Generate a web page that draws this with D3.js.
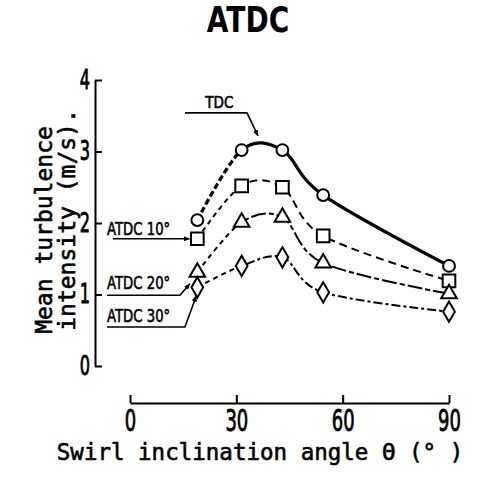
<!DOCTYPE html>
<html>
<head>
<meta charset="utf-8">
<script src="https://cdn.jsdelivr.net/npm/d3@7"></script>
<style>
  body { margin: 0; background: #fff; }
  .cond { font-family: "DejaVu Sans", sans-serif; }
  .mono { font-family: "DejaVu Sans Mono", "Liberation Mono", monospace; }
</style>
</head>
<body>
<script>
// swirl inclination angle (deg) for each measurement
var angles = [19, 31.5, 43, 54.5, 90];

var seriesNames = ["TDC", "ATDC 10°", "ATDC 20°", "ATDC 30°"];
var tdc    = [2.04, 3.02, 3.02, 2.39, 1.40];
var atdc10 = [1.78, 2.52, 2.50, 1.82, 1.19];
var atdc20 = [1.31, 2.01, 2.08, 1.44, 1.01];
var atdc30 = [1.10, 1.40, 1.52, 1.03, 0.76];

var xTicks = [0, 30, 60, 90];
var yTicks = [0, 1, 2, 3, 4];

var width = 486, height = 484;

var x = d3.scaleLinear().domain([0, 90]).range([130, 449]);
var y = d3.scaleLinear().domain([0, 4]).range([366, 80]);

var svg = d3.select("body").append("svg")
    .attr("width", width).attr("height", height);

// text squeezed sideways, the original uses a narrow typeface
function condText(px, py, sx, str, size, anchor, weight) {
  return svg.append("text").attr("class", "cond")
      .attr("transform", "translate(" + px + "," + py + ") scale(" + sx + ",1)")
      .attr("text-anchor", anchor || "start")
      .attr("font-size", size)
      .attr("font-weight", weight || "normal")
      .text(str);
}

var defs = svg.append("defs");
defs.append("marker")
    .attr("id", "arrow")
    .attr("viewBox", "0 0 10 10")
    .attr("refX", 9).attr("refY", 5)
    .attr("markerWidth", 4).attr("markerHeight", 4)
    .attr("markerUnits", "strokeWidth")
    .attr("orient", "auto")
  .append("path").attr("d", "M0,1L10,5L0,9Z").attr("fill", "#000");

// first segment is always drawn dashed, the rest in the series style
var split = x(angles[1]);
defs.append("clipPath").attr("id", "clipA")
  .append("rect").attr("x", 0).attr("y", 0).attr("width", split).attr("height", height);
defs.append("clipPath").attr("id", "clipB")
  .append("rect").attr("x", split).attr("y", 0).attr("width", width - split).attr("height", height);

// title
condText(248, 32, 0.8, "ATDC", 35, "middle", "bold");

// axes
var yAxis = d3.axisLeft(y).tickValues(yTicks).tickFormat(d3.format("d"))
    .tickSizeInner(-7).tickSizeOuter(0).tickPadding(5);
var xAxis = d3.axisBottom(x).tickValues(xTicks).tickFormat(d3.format("d"))
    .tickSizeInner(-8).tickSizeOuter(0).tickPadding(7);

var gy = svg.append("g").attr("transform", "translate(95,0)").call(yAxis);
var gx = svg.append("g").attr("transform", "translate(0,403)").call(xAxis);

[gy, gx].forEach(function(g) {
  g.select(".domain").attr("stroke-width", 2);
  g.selectAll(".tick line").attr("stroke-width", 2);
  g.selectAll("text").attr("class", "cond").attr("fill", "#000")
      .attr("stroke", "#000").attr("stroke-width", 0.9);
});
gy.selectAll("text").attr("font-size", 26)
    .attr("x", -5 / 0.62).attr("transform", "scale(0.62,1)");
gx.selectAll("text").attr("font-size", 30)
    .attr("transform", "scale(0.6,1)");

// axis titles
svg.append("text").attr("class", "mono")
    .attr("x", 260).attr("y", 460)
    .attr("text-anchor", "middle").attr("font-size", 22.5)
    .attr("stroke", "#000").attr("stroke-width", 0.6)
    .text("Swirl inclination angle Θ (° )");

svg.append("text").attr("class", "mono")
    .attr("transform", "translate(52,230) rotate(-90)")
    .attr("text-anchor", "middle").attr("font-size", 23)
    .attr("stroke", "#000").attr("stroke-width", 0.6)
    .text("Mean turbulence");
svg.append("text").attr("class", "mono")
    .attr("transform", "translate(75,220) rotate(-90)")
    .attr("text-anchor", "middle").attr("font-size", 23)
    .attr("stroke", "#000").attr("stroke-width", 0.6)
    .text("intensity (m/s).");

// curves
var series = [
  {name: seriesNames[0], values: tdc,    width: 3.2, dash: null,       marker: "circle"},
  {name: seriesNames[1], values: atdc10, width: 2,   dash: "8,5",      marker: "square"},
  {name: seriesNames[2], values: atdc20, width: 2,   dash: "15,3,5,3", marker: "triangle"},
  {name: seriesNames[3], values: atdc30, width: 2,   dash: "9,3,3,3",  marker: "diamond"}
];

var line = d3.line()
    .x(function(d, i) { return x(angles[i]); })
    .y(function(d) { return y(d); })
    .curve(d3.curveCardinal.tension(0));

series.forEach(function(s) {
  svg.append("path").attr("d", line(s.values))
      .attr("fill", "none").attr("stroke", "#000")
      .attr("stroke-width", s.width)
      .attr("stroke-dasharray", s.marker === "circle" ? "6,3" : "5,4")
      .attr("clip-path", "url(#clipA)");
  svg.append("path").attr("d", line(s.values))
      .attr("fill", "none").attr("stroke", "#000")
      .attr("stroke-width", s.width)
      .attr("stroke-dasharray", s.dash)
      .attr("clip-path", "url(#clipB)");
});

var shapes = {
  circle: d3.symbol().type(d3.symbolCircle).size(110),
  square: d3.symbol().type(d3.symbolSquare).size(160),
  triangle: d3.symbol().type(d3.symbolTriangle).size(105),
  diamond: d3.symbol().type(d3.symbolDiamond).size(120)
};

series.forEach(function(s) {
  svg.append("g").selectAll("path")
    .data(s.values)
    .join("path")
      .attr("d", shapes[s.marker])
      .attr("transform", function(d, i) { return "translate(" + x(angles[i]) + "," + y(d) + ")"; })
      .attr("fill", "#fff").attr("stroke", "#000").attr("stroke-width", 2);
});

// labels with leader lines (positions in data units)
var notes = [
  {text: seriesNames[0], tx: 25.2, ty: 3.61, size: 15, sx: 0.9, anchor: "middle",
   pts: [[15.5, 3.54], [33, 3.54], [36.1, 3.22]]},
  {text: seriesNames[1], tx: -6.5, ty: 1.83, size: 17, sx: 0.78, anchor: "start",
   pts: [[-4.8, 1.78], [16.8, 1.78]]},
  {text: seriesNames[2], tx: -6.5, ty: 1.07, size: 17, sx: 0.78, anchor: "start",
   pts: [[-6.5, 0.99], [14.1, 0.99], [16.9, 1.15]]},
  {text: seriesNames[3], tx: -6.5, ty: 0.62, size: 17, sx: 0.78, anchor: "start",
   pts: [[-6.5, 0.545], [15.5, 0.545], [18.7, 0.98]]}
];

var leader = d3.line().x(function(d) { return x(d[0]); }).y(function(d) { return y(d[1]); });

notes.forEach(function(n) {
  condText(x(n.tx), y(n.ty), n.sx, n.text, n.size, n.anchor)
      .attr("stroke", "#000").attr("stroke-width", 0.6);
  svg.append("path").attr("d", leader(n.pts))
      .attr("fill", "none").attr("stroke", "#000").attr("stroke-width", 1.6)
      .attr("marker-end", "url(#arrow)");
});
</script>
</body>
</html>
